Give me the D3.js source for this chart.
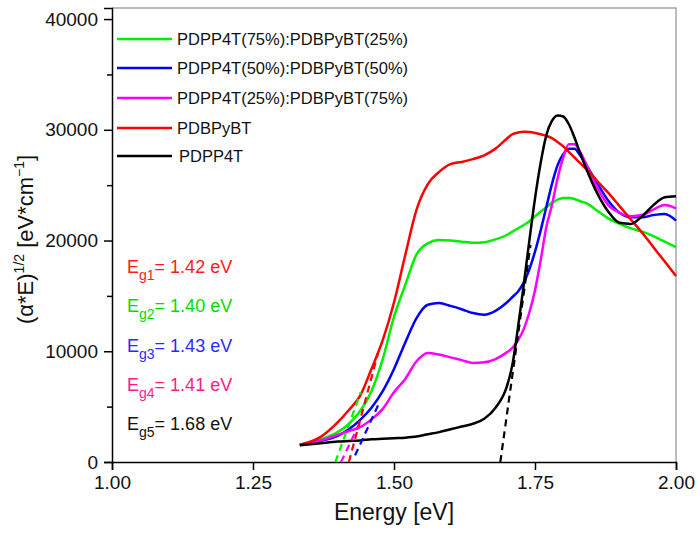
<!DOCTYPE html>
<html>
  <head>
    <meta charset="UTF-8" />
    <style>
      body {
        margin: 0;
        background: #fff;
      }
      svg {
        font-family: 'Liberation Sans', Arial, sans-serif;
      }
    </style>
  </head>
  <body>
    <svg></svg>

    <script src="https://d3js.org/d3.v7.min.js"></script>

    <script>
      let width = 700,
        height = 533
      let margin = { top: 8, right: 24, bottom: 71, left: 112 }

      // photon energy grid (eV), shared by every curve
      const energy = [
        1.333, 1.37, 1.4, 1.42, 1.44, 1.46, 1.48, 1.5, 1.52, 1.54, 1.56, 1.58,
        1.6, 1.62, 1.64, 1.66, 1.68, 1.7, 1.71, 1.72, 1.73, 1.74, 1.75, 1.76,
        1.77, 1.78, 1.79, 1.8, 1.81, 1.82, 1.83, 1.84, 1.86, 1.88, 1.9, 1.92,
        1.94, 1.96, 1.98, 2.0,
      ]

      // (alpha*E)^1/2 values
      const blend75 = [
        1550, 2050, 2700, 3450, 4600, 6400, 9300, 13100, 16000, 18750, 19750,
        20050, 20000, 19900, 19800, 19850, 20100, 20500, 20800, 21100, 21400,
        21750, 22200, 22600, 23000, 23400, 23700, 23850, 23850, 23750, 23550,
        23400, 22700, 22000, 21500, 21100, 20800, 20400, 19900, 19400,
      ]
      const blend50 = [
        1550, 1900, 2350, 2950, 3800, 4900, 6400, 8400, 10800, 13000, 14200,
        14350, 14100, 13800, 13450, 13300, 13650, 14400, 14900, 15400, 16200,
        17400, 19000, 20900, 23000, 25100, 26800, 27800, 28300, 28300, 27700,
        26900, 25200, 23600, 22500, 22100, 22100, 22300, 22400, 21800,
      ]
      const blend25 = [
        1550, 1950, 2450, 2800, 3150, 3850, 4800, 6300, 7500, 9100, 9850, 9700,
        9450, 9200, 8950, 9000, 9300, 9900, 10300, 11000, 12000, 13500, 15500,
        18200, 21200, 23200, 25600, 27500, 28700, 28700, 28000, 27000, 24800,
        23200, 22500, 22200, 22300, 22800, 23200, 22900,
      ]
      const pdbpybt = [
        1550, 2270, 3580, 4700, 6000, 8400, 11000, 14400, 18700, 22800, 25100,
        26200, 26900, 27100, 27350, 27700, 28300, 29200, 29600, 29750, 29820,
        29800, 29720, 29600, 29450, 29250, 28900, 28500, 28000, 27500, 27000,
        26500, 25400, 24300, 23100, 21900, 20700, 19400, 18100, 16800,
      ]
      const pdpp4t = [
        1500, 1700, 1850, 1900, 1950, 2050, 2100, 2150, 2200, 2300, 2500, 2700,
        2950, 3200, 3450, 3900, 4900, 6800, 8800, 12200, 16000, 20000, 23800,
        27000, 29500, 30800, 31300, 31200, 30500, 29300, 27900, 26600, 24300,
        22600, 21600, 21500, 22200, 23200, 23900, 24000,
      ]

      const seriesNames = [
        'PDPP4T(75%):PDBPyBT(25%)',
        'PDPP4T(50%):PDBPyBT(50%)',
        'PDPP4T(25%):PDBPyBT(75%)',
        'PDBPyBT',
        'PDPP4T',
      ]
      const seriesValues = [blend75, blend50, blend25, pdbpybt, pdpp4t]
      const seriesColors = ['#00f000', '#0000ff', '#ff00ff', '#ff0000', '#000000']

      // Tauc fit lines (start/end energy and value), same order as series
      const fitEnergy = [
        [1.396, 1.441],
        [1.431, 1.472],
        [1.406, 1.44],
        [1.42, 1.472],
        [1.6885, 1.742],
      ]
      const fitValue = [
        [0, 6300],
        [600, 5150],
        [0, 3600],
        [0, 9900],
        [0, 19600],
      ]

      // band gap labels
      const gapSubs = ['g1', 'g2', 'g3', 'g4', 'g5']
      const gapValues = ['1.42', '1.40', '1.43', '1.41', '1.68']
      const gapColors = ['#ff1a1a', '#00dd00', '#2a2aff', '#ff1a8c', '#111111']

      const xTicks = [1.0, 1.25, 1.5, 1.75, 2.0]
      const yTicks = [0, 10000, 20000, 30000, 40000]
      const yMinor = [5000, 15000, 25000, 35000]

      let svg = d3.select('svg').attr('width', width).attr('height', height)

      let x = d3
        .scaleLinear()
        .domain([1, 2])
        .range([margin.left, width - margin.right])
      let y = d3
        .scaleLinear()
        .domain([0, 41000])
        .range([height - margin.bottom, margin.top])

      // frame: top and right in grey
      svg
        .append('path')
        .attr('d', `M${x(1)},${y(41000)}H${x(2)}V${y(0)}`)
        .attr('fill', 'none')
        .attr('stroke', '#a6a6a6')
        .attr('stroke-width', 1.5)

      // axes
      svg
        .append('g')
        .attr('transform', `translate(0,${y(0)})`)
        .call(
          d3
            .axisBottom(x)
            .tickValues(xTicks)
            .tickFormat(d3.format('.2f'))
            .tickSize(8)
            .tickPadding(6)
        )
      svg
        .append('g')
        .attr('transform', `translate(${x(1)},0)`)
        .call(
          d3
            .axisLeft(y)
            .tickValues(yTicks)
            .tickFormat(d3.format('d'))
            .tickSize(8)
            .tickPadding(6)
        )
      svg
        .append('g')
        .attr('transform', `translate(${x(1)},0)`)
        .call(d3.axisLeft(y).tickValues(yMinor).tickFormat('').tickSize(5))
        .select('.domain')
        .remove()

      svg.selectAll('.domain').attr('stroke', '#000').attr('stroke-width', 1.5)
      svg.selectAll('.tick line').attr('stroke', '#000').attr('stroke-width', 1.5)
      svg
        .selectAll('.tick text')
        .attr('font-size', 19)
        .attr('font-family', "'Liberation Sans', Arial, sans-serif")
        .attr('fill', '#111')

      // axis titles
      svg
        .append('text')
        .attr('x', (x(1) + x(2)) / 2)
        .attr('y', 520)
        .attr('text-anchor', 'middle')
        .attr('font-size', 23)
        .attr('fill', '#111')
        .text('Energy [eV]')

      let yTitle = svg
        .append('text')
        .attr('transform', 'translate(33,324) rotate(-90)')
        .attr('font-size', 22)
        .attr('fill', '#111')
      yTitle.append('tspan').text('(α*E)')
      yTitle.append('tspan').attr('font-size', 14).attr('dy', -9).text('1/2')
      yTitle.append('tspan').attr('dy', 9).text(' [eV*cm')
      yTitle.append('tspan').attr('font-size', 14).attr('dy', -9).text('−1')
      yTitle.append('tspan').attr('dy', 9).text(']')

      // curves
      let line = d3
        .line()
        .x((d) => x(d[0]))
        .y((d) => y(d[1]))
        .curve(d3.curveMonotoneX)

      svg
        .append('g')
        .selectAll('path')
        .data(seriesValues)
        .enter()
        .append('path')
        .attr('d', (vals) => line(energy.map((e, i) => [e, vals[i]])))
        .attr('fill', 'none')
        .attr('stroke', (d, i) => seriesColors[i])
        .attr('stroke-width', 2.5)
        .attr('stroke-linejoin', 'round')

      // dashed tangent lines
      svg
        .append('g')
        .selectAll('line')
        .data(fitEnergy)
        .enter()
        .append('line')
        .attr('x1', (d) => x(d[0]))
        .attr('x2', (d) => x(d[1]))
        .attr('y1', (d, i) => y(fitValue[i][0]))
        .attr('y2', (d, i) => y(fitValue[i][1]))
        .attr('stroke', (d, i) => seriesColors[i])
        .attr('stroke-width', 2.2)
        .attr('stroke-dasharray', '7,5')

      // legend
      let legend = svg
        .append('g')
        .selectAll('g')
        .data(seriesNames)
        .enter()
        .append('g')
        .attr('transform', (d, i) => `translate(117,${[39, 68, 98, 128, 156][i]})`)
      legend
        .append('line')
        .attr('x1', 0)
        .attr('x2', 55)
        .attr('stroke', (d, i) => seriesColors[i])
        .attr('stroke-width', 2.5)
      legend
        .append('text')
        .attr('x', (d, i) => (i == 4 ? 62 : 60))
        .attr('y', 6)
        .attr('font-size', 16.5)
        .attr('fill', '#111')
        .text((d) => d)

      // band gap annotations
      let gaps = svg
        .append('g')
        .selectAll('text')
        .data(gapValues)
        .enter()
        .append('text')
        .attr('x', 127)
        .attr('y', (d, i) => [273, 312, 352, 391, 430][i])
        .attr('font-size', 18)
        .attr('fill', (d, i) => gapColors[i])
      gaps.append('tspan').text('E')
      gaps
        .append('tspan')
        .attr('font-size', 14)
        .attr('dy', 7)
        .text((d, i) => gapSubs[i])
      gaps
        .append('tspan')
        .attr('dy', -7)
        .text((d) => '= ' + d + ' eV')
    </script>
  </body>
</html>
